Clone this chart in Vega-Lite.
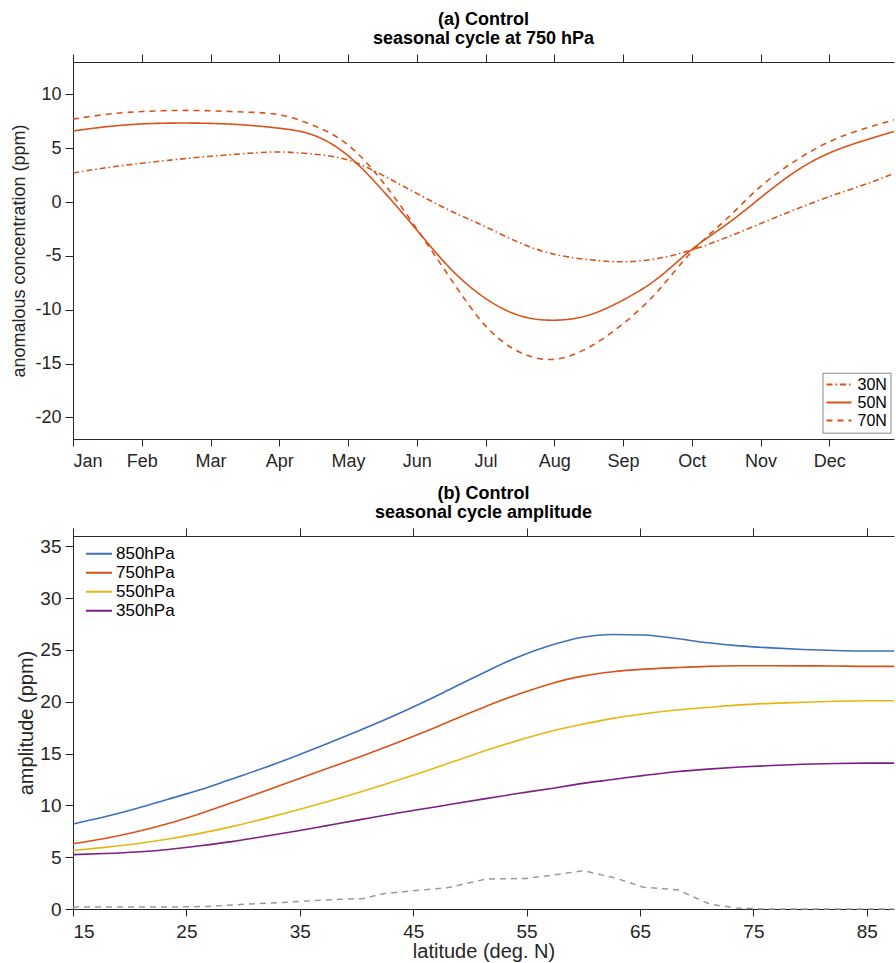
{
  "$schema": "https://vega.github.io/schema/vega-lite/v6.json",
  "padding": {"left": 10, "top": 10, "right": 0, "bottom": 1},
  "spacing": 14,
  "resolve": {"legend": {"color": "independent", "strokeDash": "independent"}},
  "config": {
    "font": "Liberation Sans",
    "view": {"stroke": null},
    "axis": {
      "grid": false,
      "domainColor": "#262626",
      "tickColor": "#262626",
      "labelColor": "#262626",
      "titleColor": "#262626",
      "labelFontSize": 18,
      "titleFontSize": 18,
      "titleFontWeight": "normal",
      "tickSize": 8,
      "labelPadding": 4
    },
    "title": {"fontSize": 18, "fontWeight": "bold", "color": "black", "frame": "group", "anchor": "middle", "offset": 6, "lineHeight": 19}
  },
  "datasets": {
    "cycle": [
      {"month": 0, "conc": 2.7, "lat": "30N"}, {"month": 0.5, "conc": 3.2, "lat": "30N"}, {"month": 1, "conc": 3.6, "lat": "30N"},
      {"month": 1.5, "conc": 3.95, "lat": "30N"}, {"month": 2, "conc": 4.25, "lat": "30N"}, {"month": 2.5, "conc": 4.5, "lat": "30N"},
      {"month": 3, "conc": 4.65, "lat": "30N"}, {"month": 3.5, "conc": 4.45, "lat": "30N"}, {"month": 4, "conc": 3.9, "lat": "30N"},
      {"month": 4.5, "conc": 2.5, "lat": "30N"}, {"month": 5, "conc": 0.8, "lat": "30N"}, {"month": 5.5, "conc": -0.85, "lat": "30N"},
      {"month": 6, "conc": -2.3, "lat": "30N"}, {"month": 6.5, "conc": -3.8, "lat": "30N"}, {"month": 7, "conc": -4.85, "lat": "30N"},
      {"month": 7.5, "conc": -5.35, "lat": "30N"}, {"month": 8, "conc": -5.55, "lat": "30N"}, {"month": 8.5, "conc": -5.25, "lat": "30N"},
      {"month": 9, "conc": -4.45, "lat": "30N"}, {"month": 9.5, "conc": -3.3, "lat": "30N"}, {"month": 10, "conc": -2.0, "lat": "30N"},
      {"month": 10.5, "conc": -0.7, "lat": "30N"}, {"month": 11, "conc": 0.5, "lat": "30N"}, {"month": 11.5, "conc": 1.6, "lat": "30N"},
      {"month": 11.94, "conc": 2.65, "lat": "30N"},
      {"month": 0, "conc": 6.6, "lat": "50N"}, {"month": 0.5, "conc": 7.0, "lat": "50N"}, {"month": 1, "conc": 7.25, "lat": "50N"},
      {"month": 1.5, "conc": 7.33, "lat": "50N"}, {"month": 2, "conc": 7.3, "lat": "50N"}, {"month": 2.5, "conc": 7.15, "lat": "50N"},
      {"month": 3, "conc": 6.85, "lat": "50N"}, {"month": 3.5, "conc": 6.2, "lat": "50N"}, {"month": 4, "conc": 4.3, "lat": "50N"},
      {"month": 4.5, "conc": 1.1, "lat": "50N"}, {"month": 5, "conc": -2.6, "lat": "50N"}, {"month": 5.5, "conc": -6.25, "lat": "50N"},
      {"month": 6, "conc": -8.95, "lat": "50N"}, {"month": 6.5, "conc": -10.55, "lat": "50N"}, {"month": 7, "conc": -10.97, "lat": "50N"},
      {"month": 7.5, "conc": -10.5, "lat": "50N"}, {"month": 8, "conc": -9.1, "lat": "50N"}, {"month": 8.5, "conc": -7.1, "lat": "50N"},
      {"month": 9, "conc": -4.4, "lat": "50N"}, {"month": 9.5, "conc": -2.1, "lat": "50N"}, {"month": 10, "conc": 0.4, "lat": "50N"},
      {"month": 10.5, "conc": 2.8, "lat": "50N"}, {"month": 11, "conc": 4.55, "lat": "50N"}, {"month": 11.5, "conc": 5.7, "lat": "50N"},
      {"month": 11.94, "conc": 6.55, "lat": "50N"},
      {"month": 0, "conc": 7.7, "lat": "70N"}, {"month": 0.5, "conc": 8.15, "lat": "70N"}, {"month": 1, "conc": 8.4, "lat": "70N"},
      {"month": 1.5, "conc": 8.5, "lat": "70N"}, {"month": 2, "conc": 8.47, "lat": "70N"}, {"month": 2.5, "conc": 8.35, "lat": "70N"},
      {"month": 3, "conc": 8.1, "lat": "70N"}, {"month": 3.5, "conc": 7.1, "lat": "70N"}, {"month": 4, "conc": 5.3, "lat": "70N"},
      {"month": 4.5, "conc": 1.9, "lat": "70N"}, {"month": 5, "conc": -2.5, "lat": "70N"}, {"month": 5.5, "conc": -7.2, "lat": "70N"},
      {"month": 6, "conc": -11.5, "lat": "70N"}, {"month": 6.5, "conc": -13.95, "lat": "70N"}, {"month": 7, "conc": -14.6, "lat": "70N"},
      {"month": 7.5, "conc": -13.5, "lat": "70N"}, {"month": 8, "conc": -11.3, "lat": "70N"}, {"month": 8.5, "conc": -8.3, "lat": "70N"},
      {"month": 9, "conc": -4.6, "lat": "70N"}, {"month": 9.5, "conc": -1.6, "lat": "70N"}, {"month": 10, "conc": 1.45, "lat": "70N"},
      {"month": 10.5, "conc": 3.8, "lat": "70N"}, {"month": 11, "conc": 5.6, "lat": "70N"}, {"month": 11.5, "conc": 6.8, "lat": "70N"},
      {"month": 11.94, "conc": 7.63, "lat": "70N"}
    ],
    "amp": [
      {"lat": 15, "amplitude": 8.2, "level": "850hPa"}, {"lat": 17.8, "amplitude": 8.9, "level": "850hPa"}, {"lat": 20.6, "amplitude": 9.7, "level": "850hPa"},
      {"lat": 23.4, "amplitude": 10.6, "level": "850hPa"}, {"lat": 26.2, "amplitude": 11.5, "level": "850hPa"}, {"lat": 29, "amplitude": 12.55, "level": "850hPa"},
      {"lat": 31.8, "amplitude": 13.6, "level": "850hPa"}, {"lat": 34.6, "amplitude": 14.75, "level": "850hPa"}, {"lat": 37.4, "amplitude": 15.95, "level": "850hPa"},
      {"lat": 40.2, "amplitude": 17.2, "level": "850hPa"}, {"lat": 43, "amplitude": 18.5, "level": "850hPa"}, {"lat": 45.8, "amplitude": 19.9, "level": "850hPa"},
      {"lat": 48.6, "amplitude": 21.4, "level": "850hPa"}, {"lat": 51.4, "amplitude": 22.9, "level": "850hPa"}, {"lat": 54.2, "amplitude": 24.3, "level": "850hPa"},
      {"lat": 57, "amplitude": 25.4, "level": "850hPa"}, {"lat": 59.8, "amplitude": 26.2, "level": "850hPa"}, {"lat": 62.6, "amplitude": 26.5, "level": "850hPa"},
      {"lat": 65.4, "amplitude": 26.45, "level": "850hPa"}, {"lat": 68.2, "amplitude": 26.1, "level": "850hPa"}, {"lat": 71, "amplitude": 25.7, "level": "850hPa"},
      {"lat": 73.8, "amplitude": 25.4, "level": "850hPa"}, {"lat": 76.6, "amplitude": 25.2, "level": "850hPa"}, {"lat": 79.4, "amplitude": 25.05, "level": "850hPa"},
      {"lat": 82.2, "amplitude": 24.95, "level": "850hPa"}, {"lat": 85, "amplitude": 24.9, "level": "850hPa"}, {"lat": 87.4, "amplitude": 24.9, "level": "850hPa"},
      {"lat": 15, "amplitude": 6.3, "level": "750hPa"}, {"lat": 17.8, "amplitude": 6.8, "level": "750hPa"}, {"lat": 20.6, "amplitude": 7.45, "level": "750hPa"},
      {"lat": 23.4, "amplitude": 8.25, "level": "750hPa"}, {"lat": 26.2, "amplitude": 9.2, "level": "750hPa"}, {"lat": 29, "amplitude": 10.25, "level": "750hPa"},
      {"lat": 31.8, "amplitude": 11.35, "level": "750hPa"}, {"lat": 34.6, "amplitude": 12.45, "level": "750hPa"}, {"lat": 37.4, "amplitude": 13.55, "level": "750hPa"},
      {"lat": 40.2, "amplitude": 14.65, "level": "750hPa"}, {"lat": 43, "amplitude": 15.8, "level": "750hPa"}, {"lat": 45.8, "amplitude": 17.0, "level": "750hPa"},
      {"lat": 48.6, "amplitude": 18.3, "level": "750hPa"}, {"lat": 51.4, "amplitude": 19.55, "level": "750hPa"}, {"lat": 54.2, "amplitude": 20.7, "level": "750hPa"},
      {"lat": 57, "amplitude": 21.7, "level": "750hPa"}, {"lat": 59.8, "amplitude": 22.45, "level": "750hPa"}, {"lat": 62.6, "amplitude": 22.9, "level": "750hPa"},
      {"lat": 65.4, "amplitude": 23.15, "level": "750hPa"}, {"lat": 68.2, "amplitude": 23.3, "level": "750hPa"}, {"lat": 71, "amplitude": 23.42, "level": "750hPa"},
      {"lat": 73.8, "amplitude": 23.47, "level": "750hPa"}, {"lat": 76.6, "amplitude": 23.48, "level": "750hPa"}, {"lat": 79.4, "amplitude": 23.47, "level": "750hPa"},
      {"lat": 82.2, "amplitude": 23.45, "level": "750hPa"}, {"lat": 85, "amplitude": 23.42, "level": "750hPa"}, {"lat": 87.4, "amplitude": 23.42, "level": "750hPa"},
      {"lat": 15, "amplitude": 5.65, "level": "550hPa"}, {"lat": 17.8, "amplitude": 5.95, "level": "550hPa"}, {"lat": 20.6, "amplitude": 6.3, "level": "550hPa"},
      {"lat": 23.4, "amplitude": 6.75, "level": "550hPa"}, {"lat": 26.2, "amplitude": 7.3, "level": "550hPa"}, {"lat": 29, "amplitude": 7.95, "level": "550hPa"},
      {"lat": 31.8, "amplitude": 8.7, "level": "550hPa"}, {"lat": 34.6, "amplitude": 9.5, "level": "550hPa"}, {"lat": 37.4, "amplitude": 10.35, "level": "550hPa"},
      {"lat": 40.2, "amplitude": 11.25, "level": "550hPa"}, {"lat": 43, "amplitude": 12.2, "level": "550hPa"}, {"lat": 45.8, "amplitude": 13.2, "level": "550hPa"},
      {"lat": 48.6, "amplitude": 14.25, "level": "550hPa"}, {"lat": 51.4, "amplitude": 15.3, "level": "550hPa"}, {"lat": 54.2, "amplitude": 16.25, "level": "550hPa"},
      {"lat": 57, "amplitude": 17.1, "level": "550hPa"}, {"lat": 59.8, "amplitude": 17.8, "level": "550hPa"}, {"lat": 62.6, "amplitude": 18.4, "level": "550hPa"},
      {"lat": 65.4, "amplitude": 18.85, "level": "550hPa"}, {"lat": 68.2, "amplitude": 19.2, "level": "550hPa"}, {"lat": 71, "amplitude": 19.45, "level": "550hPa"},
      {"lat": 73.8, "amplitude": 19.7, "level": "550hPa"}, {"lat": 76.6, "amplitude": 19.85, "level": "550hPa"}, {"lat": 79.4, "amplitude": 19.95, "level": "550hPa"},
      {"lat": 82.2, "amplitude": 20.05, "level": "550hPa"}, {"lat": 85, "amplitude": 20.1, "level": "550hPa"}, {"lat": 87.4, "amplitude": 20.1, "level": "550hPa"},
      {"lat": 15, "amplitude": 5.25, "level": "350hPa"}, {"lat": 17.8, "amplitude": 5.35, "level": "350hPa"}, {"lat": 20.6, "amplitude": 5.5, "level": "350hPa"},
      {"lat": 23.4, "amplitude": 5.75, "level": "350hPa"}, {"lat": 26.2, "amplitude": 6.1, "level": "350hPa"}, {"lat": 29, "amplitude": 6.5, "level": "350hPa"},
      {"lat": 31.8, "amplitude": 7.0, "level": "350hPa"}, {"lat": 34.6, "amplitude": 7.5, "level": "350hPa"}, {"lat": 37.4, "amplitude": 8.05, "level": "350hPa"},
      {"lat": 40.2, "amplitude": 8.6, "level": "350hPa"}, {"lat": 43, "amplitude": 9.15, "level": "350hPa"}, {"lat": 45.8, "amplitude": 9.65, "level": "350hPa"},
      {"lat": 48.6, "amplitude": 10.15, "level": "350hPa"}, {"lat": 51.4, "amplitude": 10.65, "level": "350hPa"}, {"lat": 54.2, "amplitude": 11.15, "level": "350hPa"},
      {"lat": 57, "amplitude": 11.6, "level": "350hPa"}, {"lat": 59.8, "amplitude": 12.1, "level": "350hPa"}, {"lat": 62.6, "amplitude": 12.5, "level": "350hPa"},
      {"lat": 65.4, "amplitude": 12.9, "level": "350hPa"}, {"lat": 68.2, "amplitude": 13.25, "level": "350hPa"}, {"lat": 71, "amplitude": 13.5, "level": "350hPa"},
      {"lat": 73.8, "amplitude": 13.7, "level": "350hPa"}, {"lat": 76.6, "amplitude": 13.85, "level": "350hPa"}, {"lat": 79.4, "amplitude": 13.97, "level": "350hPa"},
      {"lat": 82.2, "amplitude": 14.05, "level": "350hPa"}, {"lat": 85, "amplitude": 14.08, "level": "350hPa"}, {"lat": 87.4, "amplitude": 14.08, "level": "350hPa"}
    ],
    "diff": [
      {"lat": 15, "amplitude": 0.2}, {"lat": 18, "amplitude": 0.2}, {"lat": 21, "amplitude": 0.2}, {"lat": 24, "amplitude": 0.2},
      {"lat": 27, "amplitude": 0.25}, {"lat": 30, "amplitude": 0.45}, {"lat": 33, "amplitude": 0.6}, {"lat": 36, "amplitude": 0.8},
      {"lat": 38.7, "amplitude": 0.95}, {"lat": 40.5, "amplitude": 1.0}, {"lat": 42.5, "amplitude": 1.5}, {"lat": 45, "amplitude": 1.75},
      {"lat": 48, "amplitude": 2.05}, {"lat": 51.5, "amplitude": 2.9}, {"lat": 55, "amplitude": 2.95}, {"lat": 57.5, "amplitude": 3.3},
      {"lat": 60, "amplitude": 3.7}, {"lat": 62.8, "amplitude": 3.0}, {"lat": 65.3, "amplitude": 2.1}, {"lat": 68.3, "amplitude": 1.85},
      {"lat": 71.2, "amplitude": 0.45}, {"lat": 73.5, "amplitude": 0.1}, {"lat": 76, "amplitude": 0.0}, {"lat": 87.4, "amplitude": 0.0}
    ]
  },
  "vconcat": [
    {
      "title": {"text": ["(a) Control", "seasonal cycle at 750 hPa"]},
      "width": 821,
      "height": 377,
      "resolve": {"axis": {"x": "independent"}},
      "layer": [
        {
          "data": {"name": "cycle"},
          "mark": {"type": "line", "color": "#d95319", "strokeWidth": 1.6, "interpolate": "natural"},
          "encoding": {
            "x": {
              "field": "month", "type": "quantitative",
              "scale": {"domain": [0, 11.94], "nice": false, "zero": false},
              "axis": {"values": [0, 1, 2, 3, 4, 5, 6, 7, 8, 9, 10, 11], "title": null, "tickSize": 7, "labelPadding": 6,
                "labelExpr": "['Jan','Feb','Mar','Apr','May','Jun','Jul','Aug','Sep','Oct','Nov','Dec'][datum.value]"}
            },
            "y": {
              "field": "conc", "type": "quantitative",
              "scale": {"domain": [-22, 13], "nice": false},
              "axis": {"values": [-20, -15, -10, -5, 0, 5, 10], "title": "anomalous concentration (ppm)", "titleX": -54, "titleBaseline": "middle",
                "labelExpr": "datum.value < 0 ? '-' + abs(datum.value) : '' + datum.value"}
            },
            "strokeDash": {
              "field": "lat", "type": "nominal",
              "scale": {"domain": ["30N", "50N", "70N"], "range": [[6, 3, 1.5, 3], [1, 0], [6, 5]]},
              "legend": {"title": null, "orient": "none", "legendX": 749.5, "legendY": 310.7, "padding": 3, "strokeColor": "#888", "fillColor": "white",
                "labelFontSize": 16, "labelColor": "black", "symbolType": "stroke", "symbolSize": 625, "symbolStrokeColor": "#d95319",
                "symbolStrokeWidth": 2, "rowPadding": 0, "clipHeight": 17.7, "labelOffset": 5}
            }
          }
        },
        {
          "mark": {"type": "rule", "color": "black", "strokeWidth": 1},
          "encoding": {"y": {"datum": 0, "type": "quantitative"}}
        },
        {
          "mark": {"type": "rule", "strokeWidth": 0},
          "encoding": {"x": {"datum": 0, "type": "quantitative", "scale": {"domain": [0, 11.94], "nice": false, "zero": false},
            "axis": {"orient": "top", "labels": false, "title": null, "tickSize": 8, "values": [0, 1, 2, 3, 4, 5, 6, 7, 8, 9, 10, 11]}}}
        }
      ]
    },
    {
      "title": {"text": ["(b) Control", "seasonal cycle amplitude"]},
      "width": 821,
      "height": 373,
      "resolve": {"axis": {"x": "independent"}},
      "layer": [
        {
          "data": {"name": "amp"},
          "mark": {"type": "line", "strokeWidth": 1.6, "interpolate": "monotone"},
          "encoding": {
            "x": {
              "field": "lat", "type": "quantitative",
              "scale": {"domain": [15, 87.4], "nice": false, "zero": false},
              "axis": {"values": [15, 25, 35, 45, 55, 65, 75, 85], "title": "latitude (deg. N)", "tickSize": 7, "labelFontSize": 19, "labelPadding": 6,
                "titleFontSize": 20, "titlePadding": 0}
            },
            "y": {
              "field": "amplitude", "type": "quantitative",
              "scale": {"domain": [0, 36], "nice": false},
              "axis": {"values": [0, 5, 10, 15, 20, 25, 30, 35], "title": "amplitude (ppm)", "titleX": -47, "titleBaseline": "middle",
                "labelFontSize": 19, "titleFontSize": 20}
            },
            "color": {
              "field": "level", "type": "nominal",
              "scale": {"domain": ["850hPa", "750hPa", "550hPa", "350hPa"], "range": ["#3d6fbd", "#d95319", "#e6b711", "#7e1f86"]},
              "legend": {"title": null, "orient": "none", "legendX": 12, "legendY": 8.4, "padding": 0, "labelFontSize": 17, "labelColor": "black",
                "symbolType": "stroke", "symbolSize": 676, "symbolStrokeWidth": 2, "rowPadding": 0, "clipHeight": 18.6, "labelOffset": 3}
            }
          }
        },
        {
          "data": {"name": "diff"},
          "mark": {"type": "line", "color": "#999999", "strokeWidth": 1.5, "strokeDash": [6, 5]},
          "encoding": {
            "x": {"field": "lat", "type": "quantitative", "axis": null},
            "y": {"field": "amplitude", "type": "quantitative"}
          }
        },
        {
          "mark": {"type": "rule", "strokeWidth": 0},
          "encoding": {"x": {"datum": 15, "type": "quantitative", "scale": {"domain": [15, 87.4], "nice": false, "zero": false},
            "axis": {"orient": "top", "labels": false, "title": null, "tickSize": 8, "values": [15, 25, 35, 45, 55, 65, 75, 85]}}}
        }
      ]
    }
  ]
}
